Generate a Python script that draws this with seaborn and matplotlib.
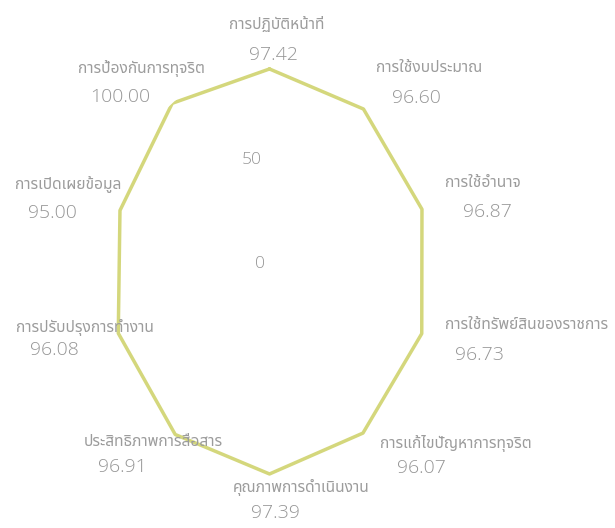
import matplotlib
matplotlib.use("Agg")
import matplotlib.pyplot as plt
import seaborn as sns
import numpy as np
import pandas as pd
from matplotlib import font_manager, ft2font

# ข้อมูลคะแนนแต่ละตัวชี้วัด (เรียงตามเข็มนาฬิกา เริ่มจากด้านบน)
categories = [
    "การปฏิบัติหน้าที่",
    "การใช้งบประมาณ",
    "การใช้อำนาจ",
    "การใช้ทรัพย์สินของราชการ",
    "การแก้ไขปัญหาการทุจริต",
    "คุณภาพการดำเนินงาน",
    "ประสิทธิภาพการสื่อสาร",
    "การปรับปรุงการทำงาน",
    "การเปิดเผยข้อมูล",
    "การป้องกันการทุจริต",
]
scores = [97.42, 96.60, 96.87, 96.73, 96.07, 97.39, 96.91, 96.08, 95.00, 100.00]
r_ticks = [0, 50]

# ตำแหน่งป้ายชื่อ/ค่า (ระยะห่างจากจุดยอด หน่วยพิกเซล: dx, dy ลง)
name_offsets = [(-41, -44), (13, -41), (23, -26), (23, -9), (17, 10),
                (-37, 14), (-91, 8), (-102, -6), (-105, -27), (-94, -35)]
value_offsets = [(-21, -14), (29, -11), (41, 3), (33, 21), (34, 35),
                 (-19, 39), (-77, 33), (-88, 17), (-92, 3), (-82, -6)]

LINE_COLOR = "#d4d77c"
NAME_COLOR = "#9c9c9c"
VALUE_COLOR = "#969696"


def find_thai_family():
    preferred = ["Noto Sans Thai", "Noto Sans Thai UI", "Loma", "Garuda",
                 "Norasi", "Tlwg Typo", "Sarabun", "Kinnari"]
    found = []
    for f in font_manager.fontManager.ttflist:
        try:
            cmap = ft2font.FT2Font(f.fname).get_charmap()
        except Exception:
            continue
        if 0x0E01 in cmap:
            found.append(f.name)
    for p in preferred:
        if p in found:
            return p
    return found[0] if found else "DejaVu Sans"


sns.set_theme(style="white")
thai = find_thai_family()
plt.rcParams["font.family"] = [thai, "DejaVu Sans"]

W, H = 615, 528
fig = plt.figure(figsize=(W / 100, H / 100), dpi=100)
fig.patch.set_facecolor("white")

# กรอบแกนเชิงขั้ว (ยืดตามแนวตั้งเหมือนต้นฉบับ)
left, right, top, bottom = 104, 435, 63.6, 479.4
ax = fig.add_axes([left / W, 1 - bottom / H, (right - left) / W, (bottom - top) / H],
                  projection="polar")
ax.set_aspect("auto")
ax.set_theta_zero_location("N")
ax.set_theta_direction(-1)

n = len(categories)
theta = np.linspace(0, 2 * np.pi, n, endpoint=False)
df = pd.DataFrame({"theta": np.append(theta, 2 * np.pi),
                   "score": scores + scores[:1]})
sns.lineplot(data=df, x="theta", y="score", sort=False, estimator=None, ax=ax,
             color=LINE_COLOR, linewidth=2.5)

ax.set_ylim(0, 100)
ax.set_xticks(theta)
ax.set_xticklabels([])
ax.set_yticks(r_ticks)
ax.set_yticklabels([])
ax.grid(False)
ax.spines["polar"].set_visible(False)
ax.set_facecolor("white")
ax.set_xlabel("")
ax.set_ylabel("")

num_font = ["Open Sans", "DejaVu Sans"]

for r in r_ticks:
    dx = -4 if r == 0 else -8
    ax.annotate(str(r), xy=(0, r), xytext=(dx, 0), textcoords="offset pixels",
                ha="right", va="bottom", fontsize=12.5, color=VALUE_COLOR,
                family=num_font, fontweight="light", annotation_clip=False)

for i in range(n):
    dx, dy = name_offsets[i]
    ax.annotate(categories[i], xy=(theta[i], scores[i]), xytext=(dx, -dy),
                textcoords="offset pixels", ha="left", va="center",
                fontsize=11.2, color=NAME_COLOR, annotation_clip=False)
    dx, dy = value_offsets[i]
    ax.annotate(f"{scores[i]:.2f}", xy=(theta[i], scores[i]), xytext=(dx, -dy),
                textcoords="offset pixels", ha="left", va="center",
                fontsize=14, color=VALUE_COLOR, family=num_font,
                fontweight="light", annotation_clip=False)

fig.savefig("out.png", dpi=100, facecolor="white")
